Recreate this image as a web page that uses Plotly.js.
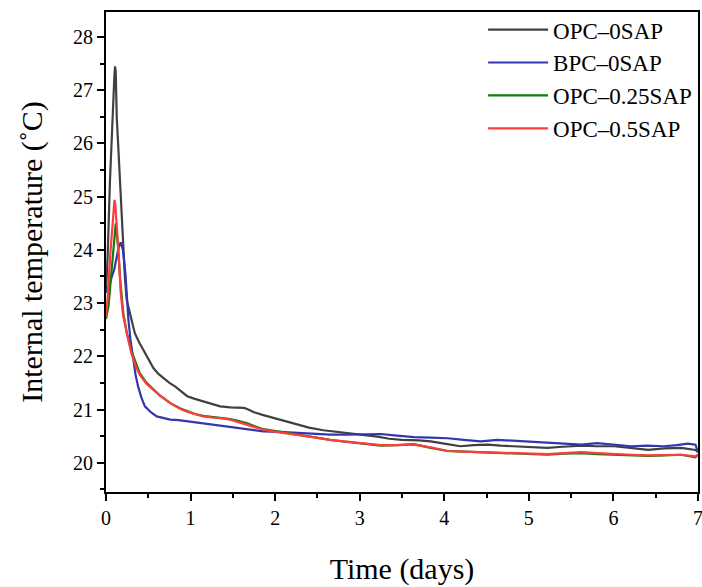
<!DOCTYPE html>
<html>
<head>
<meta charset="utf-8">
<script src="https://cdn.plot.ly/plotly-3.0.1.min.js"></script>
<style>html,body{margin:0;padding:0;background:#fff;}#chart{width:702px;height:587px;}</style>
</head>
<body>
<div id="chart"></div>
<script>
// Series names
var seriesNames = ["OPC\u20130SAP", "BPC\u20130SAP", "OPC\u20130.25SAP", "OPC\u20130.5SAP"];

// OPC-0SAP
var tOPC0 = [0, 0.02, 0.047, 0.075, 0.1, 0.107, 0.115, 0.127, 0.145, 0.166, 0.2, 0.225, 0.245, 0.27, 0.3, 0.34, 0.39, 0.44, 0.5, 0.56, 0.62, 0.68, 0.75, 0.82, 0.89, 0.96, 1.05, 1.15, 1.25, 1.35, 1.47, 1.55, 1.63, 1.67, 1.75, 1.85, 1.94, 2.1, 2.26, 2.4, 2.57, 2.73, 2.89, 3.05, 3.21, 3.35, 3.5, 3.7, 3.84, 4.0, 4.19, 4.35, 4.51, 4.67, 4.83, 5.0, 5.22, 5.4, 5.62, 5.8, 6.01, 6.2, 6.41, 6.6, 6.8, 6.97, 7.0];
var vOPC0 = [23.2, 23.9, 25.3, 26.5, 27.3, 27.45, 27.35, 26.5, 25.9, 25.3, 24.3, 23.44, 23.06, 22.9, 22.7, 22.44, 22.27, 22.12, 21.95, 21.78, 21.67, 21.59, 21.5, 21.43, 21.34, 21.25, 21.2, 21.15, 21.1, 21.06, 21.04, 21.03, 21.03, 21.01, 20.95, 20.9, 20.86, 20.78, 20.71, 20.66, 20.61, 20.58, 20.56, 20.53, 20.49, 20.45, 20.43, 20.42, 20.4, 20.36, 20.31, 20.33, 20.34, 20.32, 20.31, 20.3, 20.28, 20.3, 20.32, 20.31, 20.31, 20.28, 20.24, 20.27, 20.28, 20.24, 20.2];

// BPC-0SAP
var tBPC0 = [0, 0.03, 0.06, 0.1, 0.127, 0.15, 0.174, 0.2, 0.23, 0.265, 0.29, 0.32, 0.35, 0.38, 0.42, 0.46, 0.53, 0.6, 0.68, 0.76, 0.86, 0.96, 1.05, 1.15, 1.25, 1.35, 1.47, 1.55, 1.7, 1.86, 2.05, 2.26, 2.45, 2.65, 2.85, 3.05, 3.25, 3.44, 3.64, 3.84, 4.04, 4.23, 4.43, 4.63, 4.83, 5.02, 5.22, 5.42, 5.62, 5.81, 6.01, 6.21, 6.4, 6.6, 6.75, 6.88, 6.97, 7.0];
var vBPC0 = [23.2, 23.3, 23.45, 23.65, 23.87, 24.05, 24.14, 24.0, 23.55, 22.69, 22.3, 21.93, 21.65, 21.43, 21.22, 21.06, 20.95, 20.87, 20.84, 20.81, 20.8, 20.78, 20.76, 20.73, 20.71, 20.69, 20.67, 20.66, 20.63, 20.59, 20.58, 20.56, 20.55, 20.53, 20.53, 20.53, 20.54, 20.51, 20.48, 20.47, 20.46, 20.43, 20.4, 20.43, 20.41, 20.39, 20.37, 20.35, 20.34, 20.37, 20.34, 20.31, 20.32, 20.31, 20.33, 20.36, 20.34, 20.2];

// OPC-0.25SAP
var tOPC25 = [0, 0.03, 0.06, 0.09, 0.115, 0.14, 0.17, 0.205, 0.245, 0.3, 0.36, 0.4, 0.48, 0.56, 0.64, 0.76, 0.88, 0.96, 1.06, 1.15, 1.25, 1.35, 1.47, 1.55, 1.67, 1.86, 2.05, 2.26, 2.45, 2.65, 2.85, 3.05, 3.25, 3.44, 3.64, 3.84, 4.04, 4.23, 4.43, 4.63, 4.83, 5.02, 5.22, 5.42, 5.62, 5.81, 6.01, 6.21, 6.41, 6.6, 6.8, 6.97, 7.0];
var vOPC25 = [22.7, 22.95, 23.5, 24.05, 24.5, 24.1, 23.4, 22.8, 22.45, 22.1, 21.84, 21.68, 21.5, 21.37, 21.26, 21.12, 21.02, 20.97, 20.91, 20.88, 20.86, 20.85, 20.82, 20.79, 20.74, 20.63, 20.58, 20.53, 20.48, 20.43, 20.39, 20.36, 20.32, 20.33, 20.35, 20.28, 20.22, 20.21, 20.2, 20.19, 20.17, 20.16, 20.15, 20.17, 20.18, 20.16, 20.15, 20.14, 20.13, 20.14, 20.15, 20.1, 20.15];

// OPC-0.5SAP
var tOPC5 = [0, 0.02, 0.05, 0.08, 0.1, 0.11, 0.13, 0.15, 0.174, 0.2, 0.25, 0.3, 0.35, 0.4, 0.48, 0.56, 0.64, 0.76, 0.88, 0.96, 1.06, 1.15, 1.25, 1.35, 1.47, 1.55, 1.67, 1.86, 2.05, 2.26, 2.45, 2.65, 2.85, 3.05, 3.25, 3.44, 3.64, 3.84, 4.04, 4.23, 4.43, 4.63, 4.83, 5.02, 5.22, 5.42, 5.62, 5.81, 6.01, 6.21, 6.41, 6.6, 6.8, 6.97, 7.0];
var vOPC5 = [22.75, 23.1, 23.9, 24.6, 24.94, 24.85, 24.4, 23.9, 23.2, 22.8, 22.4, 22.06, 21.82, 21.65, 21.48, 21.37, 21.26, 21.12, 21.01, 20.96, 20.91, 20.87, 20.85, 20.84, 20.81, 20.77, 20.72, 20.62, 20.57, 20.53, 20.48, 20.43, 20.4, 20.37, 20.33, 20.33, 20.34, 20.29, 20.22, 20.21, 20.2, 20.19, 20.18, 20.17, 20.16, 20.18, 20.2, 20.18, 20.16, 20.15, 20.14, 20.15, 20.15, 20.12, 20.15];

var colors = ["#404040", "#3535b0", "#0b7d0b", "#ff3b3b"];
var xs = [tOPC0, tBPC0, tOPC25, tOPC5];
var ys = [vOPC0, vBPC0, vOPC25, vOPC5];

var traces = seriesNames.map(function (name, i) {
  return {
    x: xs[i], y: ys[i], name: name, type: 'scatter', mode: 'lines',
    legendgroup: 'g' + i,
    line: { color: colors[i], width: 2.2 }
  };
});

var fontFam = '"Liberation Serif", "DejaVu Serif", serif';

var layout = {
  width: 702, height: 587,
  margin: { l: 106, r: 4, t: 12, b: 95 },
  paper_bgcolor: '#fff', plot_bgcolor: '#fff',
  font: { family: fontFam, color: '#000' },
  showlegend: true,
  legend: {
    x: 0.637, y: 1.008, xanchor: 'left', yanchor: 'top',
    font: { family: fontFam, size: 23, color: '#000' },
    bgcolor: 'rgba(0,0,0,0)', tracegroupgap: 0,
    itemwidth: 60
  },
  xaxis: {
    range: [0, 7], dtick: 1, tick0: 0,
    showgrid: false, zeroline: false,
    showline: true, linecolor: '#000', linewidth: 2, mirror: true,
    ticks: 'outside', ticklen: 7, tickwidth: 2, tickcolor: '#000',
    ticklabeloverflow: 'allow',
    minor: { dtick: 0.5, ticklen: 4, tickwidth: 2, tickcolor: '#000', ticks: 'outside' },
    tickfont: { family: fontFam, size: 20, color: '#000' },
    title: { text: 'Time (days)', font: { family: fontFam, size: 30, color: '#000' }, standoff: 30 }
  },
  yaxis: {
    range: [19.45, 28.47], dtick: 1, tick0: 20,
    showgrid: false, zeroline: false,
    showline: true, linecolor: '#000', linewidth: 2, mirror: true,
    ticks: 'outside', ticklen: 7, tickwidth: 2, tickcolor: '#000',
    minor: { dtick: 0.5, ticklen: 4, tickwidth: 2, tickcolor: '#000', ticks: 'outside' },
    tickfont: { family: fontFam, size: 20, color: '#000' },
    title: { text: 'Internal temperature (\u02DAC)', font: { family: fontFam, size: 30, color: '#000' }, standoff: 22 }
  }
};

Plotly.newPlot('chart', traces, layout, { displayModeBar: false, staticPlot: true });
</script>
</body>
</html>
